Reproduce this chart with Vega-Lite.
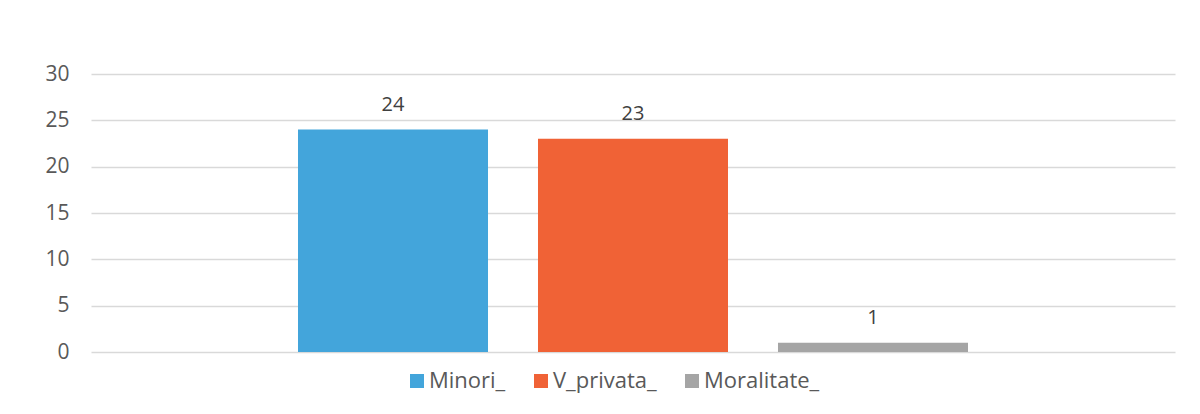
{
  "$schema": "https://vega.github.io/schema/vega-lite/v6.json",
  "width": 1084,
  "height": 278,
  "autosize": {"type": "none"},
  "padding": {"left": 91, "top": 74, "right": 25, "bottom": 62},
  "background": "white",
  "config": {
    "view": {"stroke": null},
    "font": "Open Sans"
  },
  "data": {
    "values": [
      {"serie": "Minori_", "valoare": 24},
      {"serie": "V_privata_", "valoare": 23},
      {"serie": "Moralitate_", "valoare": 1}
    ]
  },
  "encoding": {
    "x": {
      "field": "serie",
      "type": "nominal",
      "sort": ["Minori_", "V_privata_", "Moralitate_"],
      "scale": {"paddingInner": 0.2083, "paddingOuter": 0.8625},
      "axis": null
    },
    "y": {
      "field": "valoare",
      "type": "quantitative",
      "scale": {"domain": [0, 30], "nice": false},
      "axis": {
        "values": [0, 5, 10, 15, 20, 25, 30],
        "title": null,
        "domain": false,
        "ticks": false,
        "labelPadding": 22,
        "labelFontSize": 21,
        "labelColor": "#595959",
        "labelFont": "Open Sans",
        "gridColor": "#D9D9D9",
        "gridWidth": 1.3
      }
    }
  },
  "layer": [
    {
      "mark": {"type": "bar"},
      "encoding": {
        "color": {
          "field": "serie",
          "type": "nominal",
          "sort": ["Minori_", "V_privata_", "Moralitate_"],
          "scale": {
            "domain": ["Minori_", "V_privata_", "Moralitate_"],
            "range": ["#43A5DB", "#F06236", "#A5A5A5"]
          },
          "legend": {
            "orient": "none",
            "legendX": 315,
            "legendY": 296,
            "direction": "horizontal",
            "title": null,
            "symbolType": "square",
            "symbolSize": 196,
            "symbolStrokeWidth": 0,
            "labelFontSize": 22,
            "labelColor": "#595959",
            "labelFont": "Open Sans",
            "labelOffset": 1,
            "columnPadding": 24,
            "padding": 0
          }
        }
      }
    },
    {
      "mark": {
        "type": "text",
        "baseline": "middle",
        "dy": -25,
        "fontSize": 20,
        "color": "#404040",
        "font": "Open Sans"
      },
      "encoding": {
        "text": {"field": "valoare", "type": "quantitative"}
      }
    }
  ]
}
